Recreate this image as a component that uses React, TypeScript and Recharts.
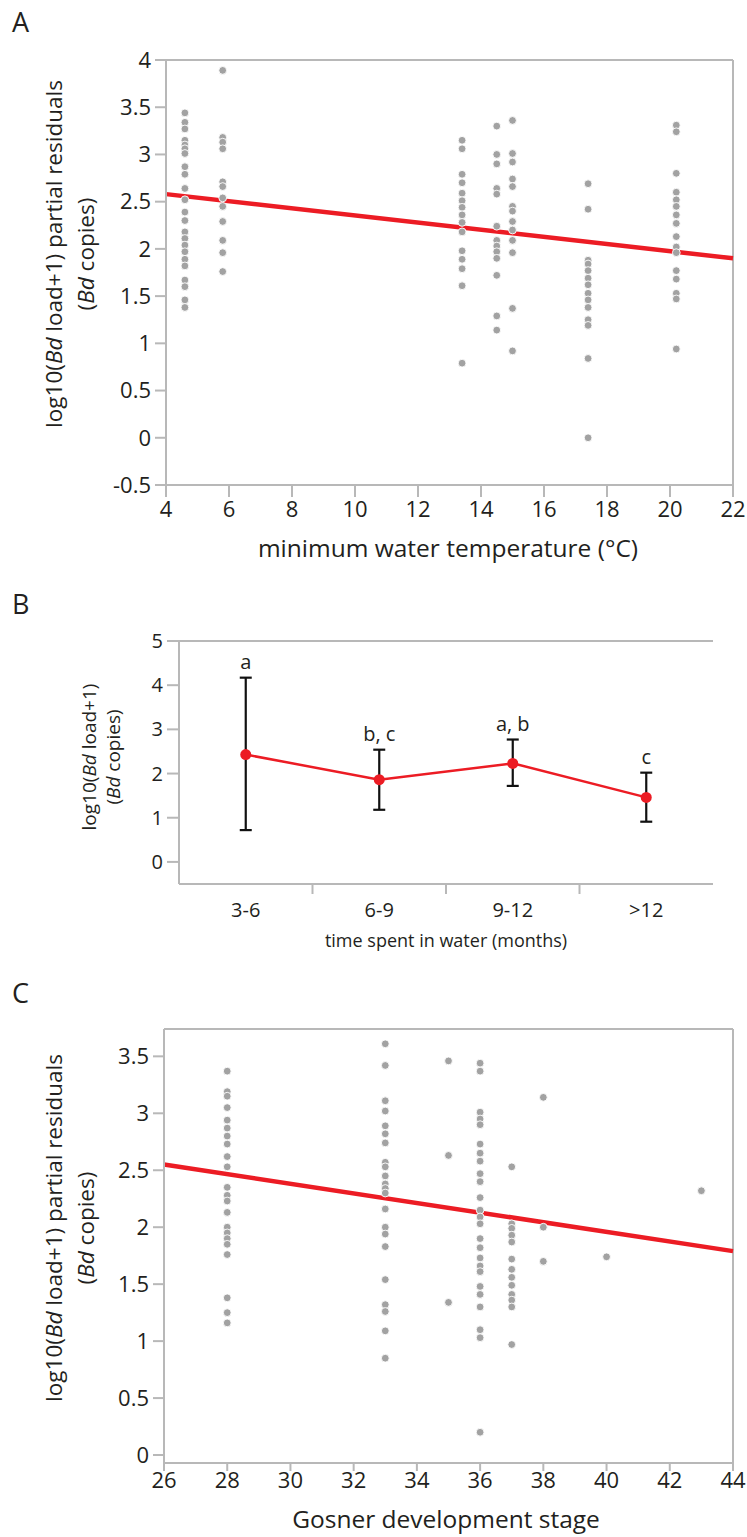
import React from "react";
import {
  ComposedChart,
  Scatter,
  Line,
  XAxis,
  YAxis,
  ReferenceLine,
  ErrorBar,
  LabelList,
} from "recharts";

const FONT = '"Open Sans", sans-serif';
const INK = "#231f20";
const AXIS = "#b8b8b8";
const RED = "#ec1c24";
const DOT = "#a2a2a2";

// Panel A: residuals vs minimum water temperature
const tempCols = [4.6, 5.8, 13.4, 14.5, 15.0, 17.4, 20.2];
const residByTemp = [
  [3.44, 3.34, 3.27, 3.15, 3.1, 3.06, 3.01, 2.87, 2.79, 2.64, 2.52, 2.39, 2.3, 2.18, 2.11, 2.04, 1.97, 1.89, 1.82, 1.67, 1.6, 1.46, 1.38],
  [3.89, 3.18, 3.13, 3.06, 2.71, 2.66, 2.54, 2.45, 2.29, 2.09, 1.96, 1.76],
  [3.15, 3.06, 2.79, 2.7, 2.59, 2.51, 2.44, 2.36, 2.28, 2.18, 1.98, 1.89, 1.79, 1.61, 0.79],
  [3.3, 3.0, 2.9, 2.64, 2.58, 2.24, 2.09, 2.03, 1.97, 1.9, 1.72, 1.29, 1.14],
  [3.36, 3.01, 2.92, 2.74, 2.66, 2.45, 2.4, 2.29, 2.2, 2.09, 1.96, 1.37, 0.92],
  [2.69, 2.42, 1.88, 1.84, 1.77, 1.69, 1.62, 1.53, 1.46, 1.38, 1.25, 1.19, 0.84, 0.0],
  [3.31, 3.24, 2.8, 2.6, 2.52, 2.45, 2.36, 2.27, 2.13, 2.02, 1.96, 1.77, 1.68, 1.53, 1.47, 0.94],
];
const tempFit = [
  { x: 4, y: 2.58 },
  { x: 22, y: 1.9 },
];
const tempTicks = [4, 6, 8, 10, 12, 14, 16, 18, 20, 22];
const residTicksA = [-0.5, 0, 0.5, 1, 1.5, 2, 2.5, 3, 3.5, 4];

// Panel B: load by time spent in water
const periods = ["3-6", "6-9", "9-12", ">12"];
const meanLoad = [2.43, 1.86, 2.23, 1.46];
const lowLoad = [0.72, 1.18, 1.72, 0.91];
const highLoad = [4.17, 2.54, 2.77, 2.02];
const groupLetters = ["a", "b, c", "a, b", "c"];
const loadTicks = [0, 1, 2, 3, 4, 5];

// Panel C: residuals vs Gosner stage
const stageCols = [28, 33, 35, 36, 37, 38, 40, 43];
const residByStage = [
  [3.37, 3.19, 3.15, 3.05, 2.94, 2.87, 2.8, 2.73, 2.62, 2.53, 2.35, 2.28, 2.23, 2.13, 2.0, 1.95, 1.9, 1.85, 1.76, 1.38, 1.25, 1.16],
  [3.61, 3.42, 3.11, 3.02, 2.89, 2.82, 2.74, 2.57, 2.53, 2.45, 2.38, 2.34, 2.3, 2.16, 2.0, 1.94, 1.83, 1.54, 1.32, 1.26, 1.09, 0.85],
  [3.46, 2.63, 1.34],
  [3.44, 3.37, 3.01, 2.95, 2.9, 2.73, 2.65, 2.58, 2.47, 2.4, 2.26, 2.15, 2.09, 2.03, 1.9, 1.82, 1.73, 1.66, 1.61, 1.48, 1.41, 1.3, 1.1, 1.03, 0.2],
  [2.53, 2.03, 1.99, 1.93, 1.87, 1.72, 1.63, 1.56, 1.49, 1.41, 1.36, 1.3, 0.97],
  [3.14, 2.0, 1.7],
  [1.74],
  [2.32],
];
const stageFit = [
  { x: 26, y: 2.55 },
  { x: 44, y: 1.79 },
];
const stageTicks = [26, 28, 30, 32, 34, 36, 38, 40, 42, 44];
const residTicksC = [0, 0.5, 1, 1.5, 2, 2.5, 3, 3.5];

const toPoints = (cols: number[], vals: number[][]) =>
  cols.flatMap((c, i) => vals[i].map((v) => ({ x: c, y: v })));

const tempPoints = toPoints(tempCols, residByTemp);
const stagePoints = toPoints(stageCols, residByStage);

const loadData = periods.map((p, i) => ({
  period: p,
  mean: meanLoad[i],
  high: highLoad[i],
  err: [meanLoad[i] - lowLoad[i], highLoad[i] - meanLoad[i]],
  letter: groupLetters[i],
}));

const bigTick = { fill: INK, fontSize: 22, fontFamily: FONT };
const smallTick = { fill: INK, fontSize: 20, fontFamily: FONT };

function GrayDot(props: any) {
  return <circle cx={props.cx} cy={props.cy} r={3.9} fill={DOT} stroke="#fff" strokeWidth={0.9} />;
}

function PeriodTick(props: any) {
  const { x, y, payload, index } = props;
  const off = payload && payload.offset ? payload.offset : 66.75;
  return (
    <g>
      {index > 0 && <line x1={x - off} x2={x - off} y1={y} y2={y + 10} stroke={AXIS} strokeWidth={2} />}
      <text x={x} y={y + 33} textAnchor="middle" style={smallTick}>
        {payload.value}
      </text>
    </g>
  );
}

interface ResidualProps {
  points: { x: number; y: number }[];
  fit: { x: number; y: number }[];
  xTicks: number[];
  yTicks: number[];
  xDomain: [number, number];
  yDomain: [number, number];
  height: number;
  top: number;
  yAxisWidth: number;
  xAxisHeight: number;
  xTickSize: number;
  xTickMargin: number;
}

function ResidualPanel(p: ResidualProps) {
  return (
    <ComposedChart
      width={747}
      height={p.height}
      data={p.points}
      margin={{ top: p.top, right: 14, bottom: 0, left: 0 }}
    >
      <XAxis
        type="number"
        dataKey="x"
        domain={p.xDomain}
        ticks={p.xTicks}
        height={p.xAxisHeight}
        axisLine={{ stroke: AXIS, strokeWidth: 2 }}
        tickLine={{ stroke: AXIS, strokeWidth: 2 }}
        tickSize={p.xTickSize}
        tickMargin={p.xTickMargin}
        tick={bigTick}
        interval={0}
      />
      <YAxis
        type="number"
        dataKey="y"
        domain={p.yDomain}
        ticks={p.yTicks}
        width={p.yAxisWidth}
        axisLine={{ stroke: AXIS, strokeWidth: 2 }}
        tickLine={{ stroke: AXIS, strokeWidth: 2 }}
        tickSize={11}
        tickMargin={4}
        tick={bigTick}
        interval={0}
        allowDataOverflow
      />
      <ReferenceLine y={p.yDomain[1]} stroke={AXIS} strokeWidth={2} />
      <ReferenceLine x={p.xDomain[1]} stroke={AXIS} strokeWidth={2} />
      <Scatter data={p.points} dataKey="y" shape={GrayDot} isAnimationActive={false} />
      <ReferenceLine segment={p.fit} stroke={RED} strokeWidth={4.5} />
    </ComposedChart>
  );
}

function YTitle({
  x1,
  x2,
  cy,
  suffix,
  size,
}: {
  x1: number;
  x2: number;
  cy: number;
  suffix: string;
  size: number;
}) {
  const st = { fontFamily: FONT, fontSize: size, fill: INK };
  return (
    <g>
      <text x={x1} y={cy} textAnchor="middle" transform={`rotate(-90 ${x1} ${cy})`} style={st}>
        log10(<tspan fontStyle="italic">Bd</tspan> load+1){suffix}
      </text>
      <text x={x2} y={cy} textAnchor="middle" transform={`rotate(-90 ${x2} ${cy})`} style={st}>
        (<tspan fontStyle="italic">Bd</tspan> copies)
      </text>
    </g>
  );
}

export default function App() {
  const bigTitle = { fontFamily: FONT, fontSize: 24.5, fill: INK };
  const smallTitle = { fontFamily: FONT, fontSize: 18, fill: INK };
  const letterStyle = { fontFamily: FONT, fontSize: 27, fill: INK };
  return (
    <div style={{ position: "absolute", left: 0, top: 0, width: 747, height: 1537, background: "#fff" }}>
      <div style={{ position: "absolute", left: 0, top: 0 }}>
        <ResidualPanel
          points={tempPoints}
          fit={tempFit}
          xTicks={tempTicks}
          yTicks={residTicksA}
          xDomain={[4, 22]}
          yDomain={[-0.5, 4]}
          height={560}
          top={60}
          yAxisWidth={166}
          xAxisHeight={75}
          xTickSize={12}
          xTickMargin={4}
        />
      </div>

      <div style={{ position: "absolute", left: 0, top: 590 }}>
        <ComposedChart
          width={747}
          height={380}
          data={loadData}
          margin={{ top: 51, right: 34, bottom: 0, left: 0 }}
        >
          <XAxis
            dataKey="period"
            scale="band"
            height={86}
            axisLine={{ stroke: AXIS, strokeWidth: 2 }}
            tickLine={false}
            tickSize={0}
            tickMargin={0}
            tick={<PeriodTick />}
            interval={0}
          />
          <YAxis
            type="number"
            domain={[-0.5, 5]}
            ticks={loadTicks}
            width={179}
            axisLine={{ stroke: AXIS, strokeWidth: 2 }}
            tickLine={{ stroke: AXIS, strokeWidth: 2 }}
            tickSize={12}
            tickMargin={4}
            tick={smallTick}
            interval={0}
          />
          <YAxis
            yAxisId="frame"
            orientation="right"
            width={0}
            domain={[-0.5, 5]}
            tick={false}
            tickLine={false}
            axisLine={{ stroke: AXIS, strokeWidth: 2 }}
          />
          <ReferenceLine y={5} stroke={AXIS} strokeWidth={2} />
          <Line
            dataKey="high"
            stroke="none"
            dot={false}
            activeDot={false}
            isAnimationActive={false}
          >
            <LabelList dataKey="letter" position="top" offset={9} style={smallTick} fill={INK} />
          </Line>
          <Line
            dataKey="mean"
            stroke={RED}
            strokeWidth={2.5}
            dot={{ r: 5.5, fill: RED, stroke: "none" }}
            activeDot={false}
            isAnimationActive={false}
          >
            <ErrorBar dataKey="err" direction="y" width={6} stroke="#111" strokeWidth={2.2} />
          </Line>
        </ComposedChart>
      </div>

      <div style={{ position: "absolute", left: 0, top: 980 }}>
        <ResidualPanel
          points={stagePoints}
          fit={stageFit}
          xTicks={stageTicks}
          yTicks={residTicksC}
          xDomain={[26, 44]}
          yDomain={[-0.07, 3.74]}
          height={557}
          top={49}
          yAxisWidth={164}
          xAxisHeight={74}
          xTickSize={8}
          xTickMargin={1}
        />
      </div>

      <svg
        width={747}
        height={1537}
        style={{ position: "absolute", left: 0, top: 0, pointerEvents: "none" }}
      >
        <text x={12} y={32} style={letterStyle}>A</text>
        <text x={12} y={614} style={letterStyle}>B</text>
        <text x={12} y={1003} style={letterStyle}>C</text>

        <YTitle x1={62} x2={94} cy={254} suffix=" partial residuals" size={22.5} />
        <YTitle x1={96} x2={120} cy={757} suffix="" size={19} />
        <YTitle x1={62} x2={94} cy={1228} suffix=" partial residuals" size={22.5} />

        <text x={448} y={557} textAnchor="middle" style={bigTitle}>
          minimum water temperature (°C)
        </text>
        <text x={446} y={947} textAnchor="middle" style={smallTitle}>
          time spent in water (months)
        </text>
        <text x={446} y={1528} textAnchor="middle" style={bigTitle}>
          Gosner development stage
        </text>
      </svg>
    </div>
  );
}
